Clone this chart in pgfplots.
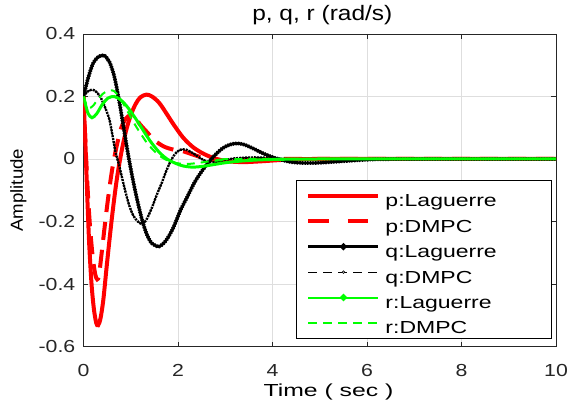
\documentclass[border=0pt]{standalone}
\usepackage{fontspec}
\setmainfont[FakeStretch=1.32]{Liberation Sans}
\newfontfamily\tickfont[FakeStretch=1.22]{Liberation Sans}
\newfontfamily\xlfont[FakeStretch=1.42]{Liberation Sans}
\newfontfamily\ylfont[FakeStretch=1.07]{Liberation Sans}
\newfontfamily\ttlfont[FakeStretch=1.17]{Liberation Sans}
\usepackage{pgfplots}
\usepackage{pgfplotstable}
\pgfplotsset{compat=1.18}
\definecolor{mred}{RGB}{255,0,0}
\definecolor{mgreen}{RGB}{0,255,0}
\definecolor{gridc}{RGB}{222,222,222}
\definecolor{axc}{RGB}{38,38,38}
\newcommand{\lgt}[1]{\makebox[166bp][l]{\rule[-4.6bp]{0pt}{28bp}#1}}

\pgfplotstableread{
t y
0 0.2
0.04 0.05
0.08 -0.12
0.12 -0.27
0.17 -0.40
0.22 -0.48
0.27 -0.525
0.31 -0.532
0.36 -0.51
0.42 -0.45
0.50 -0.33
0.60 -0.19
0.70 -0.07
0.80 0.02
0.90 0.09
1.00 0.14
1.10 0.175
1.20 0.197
1.33 0.206
1.45 0.200
1.60 0.180
1.75 0.147
1.90 0.112
2.10 0.070
2.30 0.040
2.50 0.020
2.70 0.006
2.90 -0.003
3.10 -0.008
3.40 -0.010
3.80 -0.007
4.20 -0.003
4.60 -0.001
5.00 0
10 0
}\pL

\pgfplotstableread{
t y
0 0.2
0.05 0.02
0.10 -0.13
0.15 -0.24
0.20 -0.32
0.25 -0.37
0.29 -0.385
0.33 -0.37
0.40 -0.28
0.50 -0.15
0.60 -0.04
0.70 0.04
0.80 0.10
0.90 0.13
1.00 0.14
1.10 0.13
1.20 0.11
1.35 0.085
1.50 0.06
1.70 0.04
1.90 0.03
2.10 0.025
2.30 0.015
2.50 0.005
2.70 -0.003
2.90 -0.006
3.20 -0.005
3.60 -0.002
4.00 0
10 0
}\pD

\pgfplotstableread{
t y
0 0.2
0.10 0.26
0.20 0.305
0.30 0.325
0.43 0.332
0.55 0.31
0.65 0.265
0.75 0.19
0.85 0.10
0.95 0.01
1.05 -0.07
1.15 -0.14
1.25 -0.20
1.35 -0.245
1.45 -0.27
1.60 -0.28
1.75 -0.26
1.90 -0.22
2.05 -0.165
2.20 -0.12
2.35 -0.075
2.50 -0.04
2.65 -0.01
2.80 0.015
2.95 0.035
3.10 0.046
3.25 0.050
3.40 0.046
3.60 0.033
3.80 0.018
4.00 0.006
4.20 -0.003
4.40 -0.010
4.70 -0.013
5.00 -0.012
5.40 -0.008
5.80 -0.004
6.20 -0.001
7.00 0
10 0
}\qL

\pgfplotstableread{
t y
0 0.2
0.08 0.215
0.18 0.222
0.27 0.215
0.37 0.195
0.47 0.16
0.55 0.125
0.62 0.07
0.68 0.02
0.74 -0.012
0.80 -0.05
0.88 -0.10
0.96 -0.145
1.05 -0.18
1.15 -0.20
1.24 -0.208
1.33 -0.195
1.45 -0.155
1.55 -0.115
1.66 -0.075
1.76 -0.035
1.86 -0.002
1.96 0.02
2.06 0.03
2.15 0.031
2.30 0.02
2.45 0.005
2.60 -0.008
2.75 -0.010
2.95 -0.005
3.20 0.002
3.60 0.005
4.00 0.003
4.50 0
10 0
}\qD

\pgfplotstableread{
t y
0 0.2
0.05 0.17
0.10 0.145
0.18 0.132
0.28 0.145
0.40 0.175
0.52 0.195
0.65 0.200
0.78 0.190
0.90 0.172
1.00 0.152
1.10 0.130
1.20 0.107
1.30 0.083
1.40 0.060
1.50 0.040
1.60 0.022
1.70 0.008
1.80 -0.003
1.95 -0.014
2.10 -0.022
2.30 -0.026
2.50 -0.024
2.75 -0.018
3.00 -0.012
3.30 -0.007
3.70 -0.003
4.20 -0.001
5.00 0
10 0
}\rL

\pgfplotstableread{
t y
0 0.2
0.06 0.175
0.12 0.163
0.20 0.17
0.30 0.19
0.42 0.21
0.55 0.22
0.65 0.217
0.75 0.20
0.85 0.175
0.95 0.148
1.05 0.12
1.15 0.095
1.25 0.072
1.35 0.05
1.45 0.033
1.55 0.018
1.65 0.006
1.80 -0.006
2.00 -0.014
2.20 -0.016
2.40 -0.013
2.70 -0.007
3.00 -0.003
3.50 0
10 0
}\rD

\begin{document}
\begin{tikzpicture}
\begin{axis}[
  name=ax,
  scale only axis,
  width=472.5bp, height=312.5bp,
  xmin=0, xmax=10, ymin=-0.6, ymax=0.4,
  xtick={0,2,4,6,8,10},
  ytick={-0.6,-0.4,-0.2,0,0.2,0.4},
  grid=major,
  major grid style={gridc, line width=0.6bp},
  axis line style={axc, line width=0.7bp},
  major tick style={axc, line width=0.7bp},
  major tick length=5bp,
  tick align=inside,
  /pgf/number format/assume math mode=true,
  tick label style={font=\tickfont\fontsize{17.5}{20}\selectfont, text=axc},
  xticklabel style={inner sep=0pt, anchor=north, yshift=-18bp},
  yticklabel style={inner sep=0pt, anchor=east, xshift=-8bp},
  title={p, q, r (rad/s)},
  title style={at={(axis description cs:0.5055,1.0234)}, anchor=base, inner sep=0pt, font=\ttlfont\fontsize{21}{24}\selectfont},
  xlabel={Time ( sec )},
  xlabel style={at={(axis description cs:0.5185,-0.1584)}, anchor=base, inner sep=0pt, font=\xlfont\fontsize{17.5}{20}\selectfont},
  ylabel={Amplitude},
  ylabel style={at={(axis description cs:-0.1202,0.5)}, anchor=south, inner sep=0pt, font=\ylfont\fontsize{17.5}{20}\selectfont},
  legend cell align=left,
  legend style={at={(axis description cs:0.9915,0.5328)}, anchor=north east,
    draw=black, line width=1bp, fill=white, inner xsep=0pt, inner ysep=3bp,
    row sep=0.5bp, column sep=0pt,
    nodes={inner sep=0pt},
    font=\fontsize{17.5}{20}\selectfont},
]
% p Laguerre
\addplot[mred, line width=4bp, smooth,
  legend image code/.code={\path[draw=none,fill=none] (0bp,-0.1bp) rectangle (89bp,0.1bp);
    \draw[mred, line width=4bp, solid] (12bp,0bp) -- (82bp,0bp);}] table[x=t,y=y] {\pL};
\addlegendentry{\lgt{p:Laguerre}}
% p DMPC
\addplot[mred, line width=4bp, smooth, dash pattern=on 18bp off 10bp,
  legend image code/.code={\path[draw=none,fill=none] (0bp,-0.1bp) rectangle (89bp,0.1bp);
    \draw[mred, line width=4bp, dash pattern=on 21bp off 18.5bp] (12bp,0bp) -- (72bp,0bp);}] table[x=t,y=y] {\pD};
\addlegendentry{\lgt{p:DMPC}}
% q Laguerre
\addplot[black, line width=2.8bp, smooth,
  legend image code/.code={\path[draw=none,fill=none] (0bp,-0.1bp) rectangle (89bp,0.1bp);
    \draw[black, line width=2.6bp, solid] (12bp,0bp) -- (82bp,0bp);
    \fill[black] (47bp,0bp) circle (1.8bp);}] table[x=t,y=y] {\qL};
\addlegendentry{\lgt{q:Laguerre}}
\addplot[forget plot, black, line width=3.8bp, smooth,
  dash pattern=on 1.3bp off 1.3bp] table[x=t,y=y] {\qL};
% q DMPC
\addplot[black, line width=1.1bp, smooth, dash pattern=on 9bp off 5bp,
  legend image code/.code={\path[draw=none,fill=none] (0bp,-0.1bp) rectangle (89bp,0.1bp);
    \draw[black, line width=0.9bp, dash pattern=on 9bp off 6bp] (12bp,0bp) -- (82bp,0bp);
    \draw[black, line width=0.6bp, fill=white, solid] (47bp,0bp) circle (1.3bp);}] table[x=t,y=y] {\qD};
\addlegendentry{\lgt{q:DMPC}}
\addplot[forget plot, black, line width=2.4bp, smooth,
  dash pattern=on 2bp off 1bp] table[x=t,y=y] {\qD};
% r Laguerre
\addplot[mgreen, line width=3bp, smooth,
  legend image code/.code={\path[draw=none,fill=none] (0bp,-0.1bp) rectangle (89bp,0.1bp);
    \draw[mgreen, line width=2bp, solid] (12bp,0bp) -- (82bp,0bp);
    \fill[mgreen] (47bp,0bp) circle (1.8bp);}] table[x=t,y=y] {\rL};
\addlegendentry{\lgt{r:Laguerre}}
% r DMPC
\addplot[mgreen, line width=2bp, smooth, dash pattern=on 8bp off 6bp,
  legend image code/.code={\path[draw=none,fill=none] (0bp,-0.1bp) rectangle (89bp,0.1bp);
    \draw[mgreen, line width=2bp, dash pattern=on 9bp off 6bp] (12bp,0bp) -- (82bp,0bp);}] table[x=t,y=y] {\rD};
\addlegendentry{\lgt{r:DMPC}}
\end{axis}
\pgfresetboundingbox
\path ([xshift=-83.5bp,yshift=-59.5bp]ax.south west) rectangle ([xshift=13bp,yshift=34bp]ax.north east);
\end{tikzpicture}
\end{document}
